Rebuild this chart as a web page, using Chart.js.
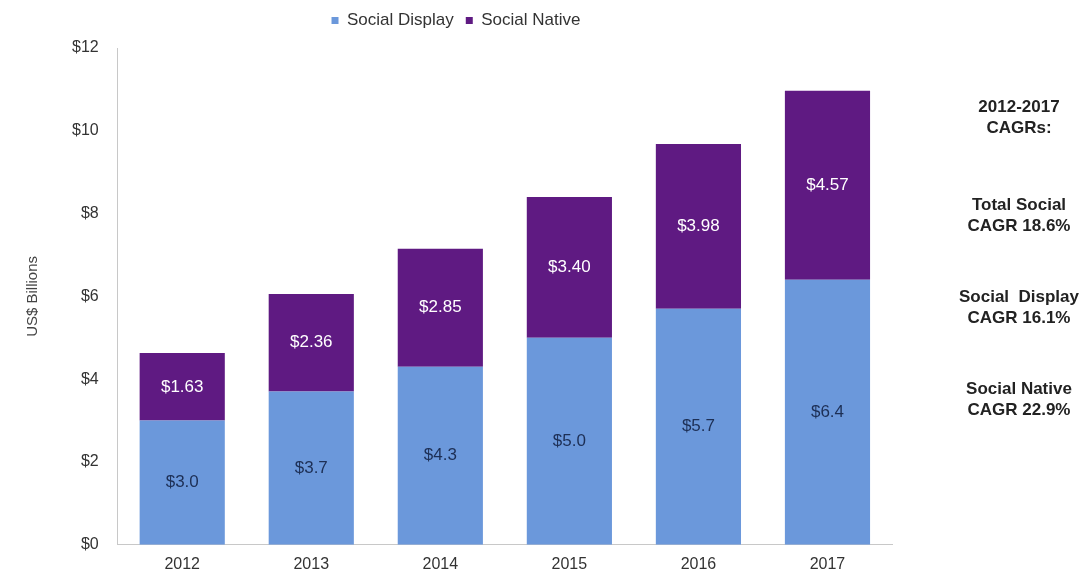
<!DOCTYPE html>
<html>
<head>
<meta charset="utf-8">
<script src="https://cdn.jsdelivr.net/npm/chart.js@4"></script>
<style>
  html, body { margin: 0; padding: 0; background: #ffffff; }
  #wrap { width: 1089px; height: 576px; position: relative; }
</style>
</head>
<body>
<div id="wrap"><canvas id="chart"></canvas></div>
<script>
const years = ['2012', '2013', '2014', '2015', '2016', '2017'];
const socialDisplay = [3.0, 3.7, 4.3, 5.0, 5.7, 6.4];
const socialNative = [1.63, 2.36, 2.85, 3.40, 3.98, 4.57];
const displayLabels = ['$3.0', '$3.7', '$4.3', '$5.0', '$5.7', '$6.4'];
const nativeLabels = ['$1.63', '$2.36', '$2.85', '$3.40', '$3.98', '$4.57'];
const cagrNotes = [
    ['2012-2017', 'CAGRs:'],
    ['Total Social', 'CAGR 18.6%'],
    ['Social  Display', 'CAGR 16.1%'],
    ['Social Native', 'CAGR 22.9%']
];

const FONT = '"Liberation Sans", Arial, sans-serif';

// a bit more room under the legend
const legendGap = {
    id: 'legendGap',
    beforeInit(chart) {
        const fit = chart.legend.fit;
        chart.legend.fit = function () {
            fit.bind(chart.legend)();
            this.height += 9;
        };
    }
};

// labels inside the bar segments
const barLabels = {
    id: 'barLabels',
    afterDatasetsDraw(chart) {
        const ctx = chart.ctx;
        ctx.save();
        ctx.font = '17px ' + FONT;
        ctx.textAlign = 'center';
        ctx.textBaseline = 'middle';
        chart.data.datasets.forEach((ds, i) => {
            const meta = chart.getDatasetMeta(i);
            const texts = i === 0 ? displayLabels : nativeLabels;
            ctx.fillStyle = i === 0 ? '#1d2f55' : '#ffffff';
            meta.data.forEach((bar, j) => {
                let y = (bar.y + bar.base) / 2;
                ctx.fillText(texts[j], bar.x, y);
            });
        });
        ctx.restore();
    }
};

// CAGR notes on the right
const sideNotes = {
    id: 'sideNotes',
    afterDraw(chart) {
        const ctx = chart.ctx;
        ctx.save();
        ctx.font = 'bold 17px ' + FONT;
        ctx.fillStyle = '#222222';
        ctx.textAlign = 'center';
        ctx.textBaseline = 'middle';
        const x = 1019;
        const tops = [107, 205, 297, 389];
        cagrNotes.forEach((lines, i) => {
            lines.forEach((t, k) => {
                ctx.fillText(t, x, tops[i] + k * 21);
            });
        });
        ctx.restore();
    }
};

new Chart(document.getElementById('chart'), {
    type: 'bar',
    data: {
        labels: years,
        datasets: [{
            label: 'Social Display',
            data: socialDisplay,
            backgroundColor: '#6b98db',
            categoryPercentage: 0.66,
            barPercentage: 1
        }, {
            label: 'Social Native',
            data: socialNative,
            backgroundColor: '#5f1a82',
            categoryPercentage: 0.66,
            barPercentage: 1
        }]
    },
    options: {
        responsive: true,
        maintainAspectRatio: false,
        animation: false,
        layout: {
            padding: { left: 20, right: 197, top: 0, bottom: 0 }
        },
        scales: {
            x: {
                stacked: true,
                grid: { display: false },
                border: { color: '#c8c8c8' },
                ticks: { color: '#333333', font: { family: FONT, size: 16 }, padding: 2 }
            },
            y: {
                stacked: true,
                min: 0,
                max: 12,
                grid: { display: false },
                border: { color: '#c8c8c8' },
                ticks: {
                    stepSize: 2,
                    color: '#333333',
                    padding: 11,
                    font: { family: FONT, size: 16 },
                    callback: v => '$' + v
                },
                title: {
                    display: true,
                    text: 'US$ Billions',
                    color: '#444444',
                    font: { family: FONT, size: 15 },
                    padding: { bottom: 19 }
                }
            }
        },
        plugins: {
            legend: {
                position: 'top',
                labels: {
                    color: '#333333',
                    font: { family: FONT, size: 17 },
                    boxWidth: 7,
                    boxHeight: 7,
                    padding: 12
                }
            },
            tooltip: { enabled: false }
        }
    },
    plugins: [legendGap, barLabels, sideNotes]
});
</script>
</body>
</html>
